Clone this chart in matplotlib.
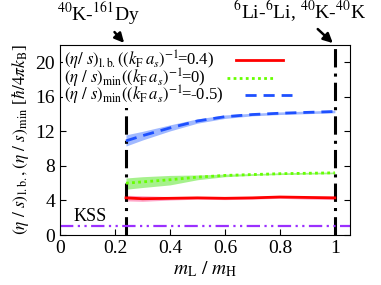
import numpy as np
import matplotlib
matplotlib.use("Agg")
import matplotlib.pyplot as plt

plt.rcParams['font.family'] = 'serif'
plt.rcParams['font.serif'] = ['Liberation Serif', 'STIXGeneral', 'DejaVu Serif']
plt.rcParams['mathtext.fontset'] = 'stix'

# mass ratio m_L / m_H
x = [0.24, 0.3, 0.4, 0.5, 0.6, 0.7, 0.8, 0.9, 1.0]
# (eta/s)_l.b. at (kF a)^-1 = 0.4
lb = [4.3, 4.2, 4.25, 4.3, 4.25, 4.3, 4.4, 4.35, 4.3]
lb_lo = [3.95, 3.9, 4.05, 4.15, 4.1, 4.15, 4.25, 4.15, 4.1]
lb_hi = [4.6, 4.55, 4.45, 4.45, 4.4, 4.45, 4.55, 4.5, 4.5]
# (eta/s)_min at (kF a)^-1 = 0
mn0 = [6.0, 6.15, 6.4, 6.7, 6.9, 7.0, 7.1, 7.15, 7.2]
mn0_lo = [5.3, 5.5, 5.8, 6.4, 6.75, 6.9, 7.0, 7.05, 7.1]
mn0_hi = [6.6, 6.75, 6.9, 6.95, 7.05, 7.1, 7.2, 7.25, 7.3]
# (eta/s)_min at (kF a)^-1 = -0.5
mn5 = [10.9, 11.5, 12.4, 13.2, 13.7, 13.95, 14.1, 14.2, 14.3]
mn5_lo = [10.3, 11.0, 12.05, 12.95, 13.5, 13.8, 13.95, 14.05, 14.15]
mn5_hi = [11.6, 12.0, 12.75, 13.45, 13.9, 14.1, 14.25, 14.35, 14.45]
KSS = 1.0
xticks = [0, 0.2, 0.4, 0.6, 0.8, 1]
xticklabels = ['0', '0.2', '0.4', '0.6', '0.8', '1']
yticks = [0, 4, 8, 12, 16, 20]

fig = plt.figure(figsize=(3.81, 2.85), dpi=100)
ax = fig.add_axes([0.1575, 0.1754, 0.7611, 0.6667])

ax.fill_between(x, lb_lo, lb_hi, color='#ff7fb0', alpha=0.7, lw=0)
ax.fill_between(x, mn0_lo, mn0_hi, color='#90ee70', alpha=0.8, lw=0)
ax.fill_between(x, mn5_lo, mn5_hi, color='#8aa8ff', alpha=0.8, lw=0)

ax.plot(x, lb, color='#ff0000', lw=2,
        label=r'$(\eta/\ s)_{\rm l.b.}((k_{\rm F}\,a_s)^{-1}\!$=0.4)')
ax.plot(x, mn0, color='#66ff00', lw=2, ls=(0, (1, 1.2)),
        label=r'$(\eta\ /\ s)_{\rm min}((k_{\rm F}\,a_s)^{-1}\!$=0)')
ax.plot(x, mn5, color='#1e50ff', lw=2, ls=(0, (4, 2.5)),
        label=r'$(\eta\ /\ s)_{\rm min}((k_{\rm F}\,a_s)^{-1}\!$=-0.5)')

ax.axhline(KSS, color='#9b30ff', lw=1.6, ls=(0, (6, 2, 1, 2, 1, 2)))
ax.text(0.05, 1.6, 'KSS', fontsize=13)

ax.axvline(0.24, color='black', lw=2.2, ls=(0, (6, 2, 1, 2)), zorder=1)
ax.axvline(1.0, color='black', lw=2.2, ls=(0, (6, 2, 1, 2)), zorder=1)

ax.set_xlim(0, 1.055)
ax.set_ylim(0, 22)
ax.set_xticks(xticks)
ax.set_xticklabels(xticklabels)
ax.set_yticks(yticks)
ax.tick_params(direction='in', labelsize=14, right=True, length=4)
ax.set_xlabel(r'$m_{\rm L}\ /\ m_{\rm H}$', fontsize=14, labelpad=2)
ax.set_ylabel(r'$(\eta\ /\ s)_{\rm l.b.},(\eta\ /\ s)_{\rm min}$ [$\hbar/4\pi k_{\rm B}$]',
              fontsize=12.5, labelpad=3)

leg = ax.legend(loc='upper left', markerfirst=False, fontsize=12, frameon=True,
                framealpha=1, edgecolor='none', fancybox=False, handlelength=2.8,
                handletextpad=1.3, borderpad=0.05, labelspacing=-0.35,
                borderaxespad=0.2)
for col in leg._legend_handle_box.get_children():
    col.align = 'left'

ax.annotate(r'$^{40}$K-$^{161}$Dy', xy=(0.24, 22), xytext=(0.14, 24.8),
            fontsize=14, ha='center', annotation_clip=False,
            arrowprops=dict(arrowstyle='-|>', color='black', lw=1.8))
ax.annotate(r'$^{6}$Li-$^{6}$Li, $^{40}$K-$^{40}$K', xy=(1.0, 22), xytext=(0.87, 25.0),
            fontsize=14, ha='center', annotation_clip=False,
            arrowprops=dict(arrowstyle='-|>', color='black', lw=1.8))

fig.savefig('out.png', dpi=100)
